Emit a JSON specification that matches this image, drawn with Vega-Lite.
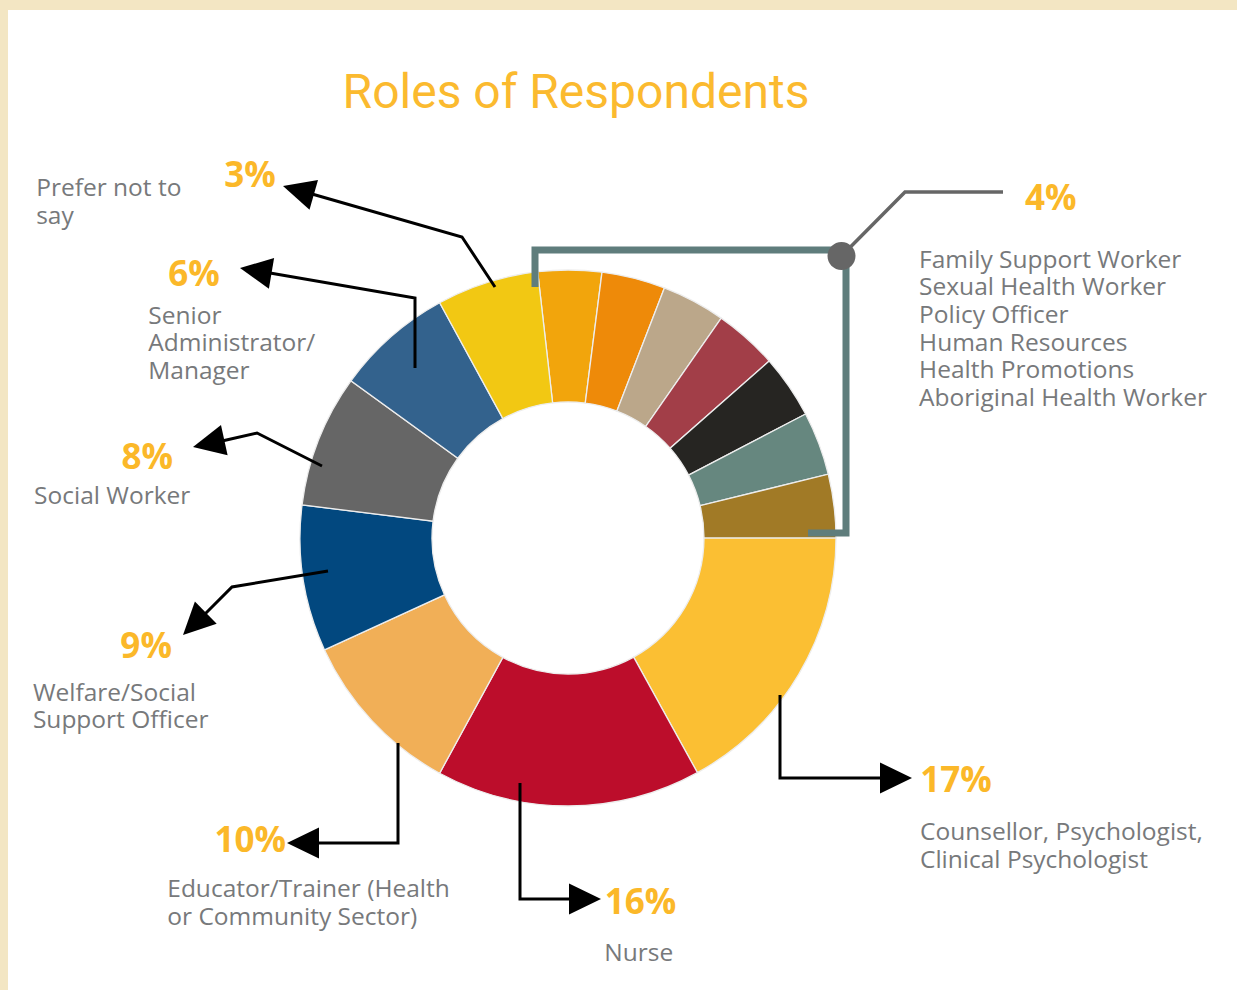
{
  "$schema": "https://vega.github.io/schema/vega-lite/v6.json",
  "autosize": "none",
  "width": 1128,
  "height": 1066,
  "padding": {"left": 4, "top": 5, "right": 105, "bottom": -81},
  "background": "white",
  "view": {"fill": null, "stroke": null},
  "title": {
    "text": "Roles of Respondents",
    "frame": "group",
    "anchor": "middle",
    "orient": "top",
    "offset": -156,
    "baseline": "alphabetic",
    "dx": 8,
    "font": "Roboto",
    "fontSize": 48,
    "fontWeight": 400,
    "color": "#FBBA2F"
  },
  "data": {
    "values": [
      {"rank": 1, "role": "Family Support Worker", "value": 3.83, "pct": "4%", "caption": ""},
      {"rank": 2, "role": "Sexual Health Worker", "value": 3.83, "pct": "4%", "caption": ""},
      {"rank": 3, "role": "Policy Officer", "value": 3.83, "pct": "4%", "caption": ""},
      {"rank": 4, "role": "Human Resources", "value": 3.83, "pct": "4%", "caption": "Family Support Worker\nSexual Health Worker\nPolicy Officer\nHuman Resources\nHealth Promotions\nAboriginal Health Worker"},
      {"rank": 5, "role": "Health Promotions", "value": 3.83, "pct": "4%", "caption": ""},
      {"rank": 6, "role": "Aboriginal Health Worker", "value": 3.83, "pct": "4%", "caption": ""},
      {"rank": 7, "role": "Other", "value": 3.83, "pct": "4%", "caption": ""},
      {"rank": 8, "role": "Counsellor, Psychologist, Clinical Psychologist", "value": 16.97, "pct": "17%", "caption": "Counsellor, Psychologist,\nClinical Psychologist"},
      {"rank": 9, "role": "Nurse", "value": 15.97, "pct": "16%", "caption": "Nurse"},
      {"rank": 10, "role": "Educator/Trainer (Health or Community Sector)", "value": 10.19, "pct": "10%", "caption": "Educator/Trainer (Health\nor Community Sector)"},
      {"rank": 11, "role": "Welfare/Social Support Officer", "value": 8.83, "pct": "9%", "caption": "Welfare/Social\nSupport Officer"},
      {"rank": 12, "role": "Social Worker", "value": 8.0, "pct": "8%", "caption": "Social Worker"},
      {"rank": 13, "role": "Senior Administrator/Manager", "value": 7.08, "pct": "6%", "caption": "Senior\nAdministrator/\nManager"},
      {"rank": 14, "role": "Prefer not to say", "value": 6.14, "pct": "3%", "caption": "Prefer not to\nsay"}
    ]
  },
  "transform": [
    {"stack": "value", "groupby": [], "sort": [{"field": "rank", "order": "ascending"}], "as": ["v0", "v1"]}
  ],
  "resolve": {"scale": {"shape": "independent"}},
  "layer": [
    {
      "transform": [{"filter": "datum.rank === 1"}],
      "mark": {"type": "point", "size": 4, "opacity": 1, "filled": true, "fill": "#F3E6C3", "strokeWidth": 0,
               "shape": "M -568 -538 L 669 -538 L 669 -528 L -560 -528 L -560 452 L -568 452 Z"}
    },
    {
      "mark": {"type": "arc", "radius": 268, "radius2": 136, "stroke": "#ededed", "strokeWidth": 1.3},
      "encoding": {
        "theta": {"field": "v0", "type": "quantitative", "scale": {"domain": [0, 99.99], "range": [-0.11345, 6.16974]}},
        "theta2": {"field": "v1"},
        "color": {
          "field": "role", "type": "nominal", "legend": null,
          "scale": {
            "domain": ["Family Support Worker", "Sexual Health Worker", "Policy Officer", "Human Resources", "Health Promotions", "Aboriginal Health Worker", "Other", "Counsellor, Psychologist, Clinical Psychologist", "Nurse", "Educator/Trainer (Health or Community Sector)", "Welfare/Social Support Officer", "Social Worker", "Senior Administrator/Manager", "Prefer not to say"],
            "range": ["#F2A50C", "#EE8A09", "#BBA78A", "#A23E48", "#262522", "#66877F", "#A17A26", "#FBBF33", "#BC0D2B", "#F1AF57", "#02487F", "#666666", "#33628D", "#F2C813"]
          }
        }
      }
    },
    {
      "transform": [{"filter": "datum.rank === 4"}],
      "mark": {"type": "point", "size": 4, "opacity": 1, "filled": false, "stroke": "#5F7D7C", "strokeWidth": 7, "strokeJoin": "miter", "strokeCap": "butt",
               "shape": "M -33 -251 L -33 -288 L 278 -288 L 278 -5 L 240 -5"}
    },
    {
      "transform": [{"filter": "datum.rank === 4"}],
      "mark": {"type": "point", "size": 4, "opacity": 1, "filled": false, "stroke": "#666666", "strokeWidth": 3.5, "strokeJoin": "miter",
               "shape": "M 273.5 -282 L 337 -346 L 435 -346"}
    },
    {
      "transform": [{"filter": "datum.rank === 4"}],
      "mark": {"type": "point", "size": 4, "opacity": 1, "filled": true, "fill": "#666666", "strokeWidth": 0,
               "shape": "M 287.5 -282 A 14 14 0 1 1 259.5 -282 A 14 14 0 1 1 287.5 -282 Z"}
    },
    {
      "transform": [{"filter": "datum.rank >= 8"}],
      "mark": {"type": "point", "size": 4, "opacity": 1, "filled": false, "stroke": "#000000", "strokeWidth": 3, "strokeJoin": "miter"},
      "encoding": {
        "shape": {
          "field": "role", "type": "nominal", "legend": null,
          "scale": {
            "domain": ["Counsellor, Psychologist, Clinical Psychologist", "Nurse", "Educator/Trainer (Health or Community Sector)", "Welfare/Social Support Officer", "Social Worker", "Senior Administrator/Manager", "Prefer not to say"],
            "range": [
              "M 212 157 L 212 240 L 314 240",
              "M -48 245 L -48 361 L 3 361",
              "M -170 205 L -170 305 L -251 305",
              "M -240 33 L -336 49 L -364 77",
              "M -246 -72 L -311 -105 L -346 -97",
              "M -153 -170 L -153 -240 L -298 -265",
              "M -73 -251 L -106 -301 L -256 -344"
            ]
          }
        }
      }
    },
    {
      "transform": [{"filter": "datum.rank >= 8"}],
      "mark": {"type": "point", "size": 4, "opacity": 1, "filled": true, "fill": "#000000", "strokeWidth": 0},
      "encoding": {
        "shape": {
          "field": "role", "type": "nominal", "legend": null,
          "scale": {
            "domain": ["Counsellor, Psychologist, Clinical Psychologist", "Nurse", "Educator/Trainer (Health or Community Sector)", "Welfare/Social Support Officer", "Social Worker", "Senior Administrator/Manager", "Prefer not to say"],
            "range": [
              "M 344 240 L 312 224.5 L 312 255.5 Z",
              "M 33 361 L 1 345.5 L 1 376.5 Z",
              "M -281 305 L -249 289.5 L -249 320.5 Z",
              "M -385 97 L -351.3 85.7 L -373.1 63.5 Z",
              "M -375 -91 L -340.4 -82.7 L -347 -112.9 Z",
              "M -328 -270 L -293.9 -279.9 L -299.1 -249.3 Z",
              "M -285 -352 L -250 -358 L -258.5 -328.3 Z"
            ]
          }
        }
      }
    },
    {"transform": [{"filter": "datum.rank === 14"}],
     "mark": {"type": "text", "radius": 472, "dx": -92, "dy": 52, "font": "Open Sans", "fontSize": 35, "fontWeight": "bold", "fill": "#FBB829", "align": "center", "baseline": "middle"},
     "encoding": {"theta": {"field": "v0", "type": "quantitative", "scale": {"domain": [0, 99.99], "range": [-0.11345, 6.16974]}}, "text": {"field": "pct"}}},
    {"transform": [{"filter": "datum.rank === 13"}],
     "mark": {"type": "text", "radius": 458, "dx": -3, "dy": 6, "font": "Open Sans", "fontSize": 35, "fontWeight": "bold", "fill": "#FBB829", "align": "center", "baseline": "middle"},
     "encoding": {"theta": {"field": "v0", "type": "quantitative", "scale": {"domain": [0, 99.99], "range": [-0.11345, 6.16974]}}, "text": {"field": "pct"}}},
    {"transform": [{"filter": "datum.rank === 12"}],
     "mark": {"type": "text", "radius": 428, "dx": 4, "dy": -27, "font": "Open Sans", "fontSize": 35, "fontWeight": "bold", "fill": "#FBB829", "align": "center", "baseline": "middle"},
     "encoding": {"theta": {"field": "v0", "type": "quantitative", "scale": {"domain": [0, 99.99], "range": [-0.11345, 6.16974]}}, "text": {"field": "pct"}}},
    {"transform": [{"filter": "datum.rank === 11"}],
     "mark": {"type": "text", "radius": 428, "dx": -33, "dy": -70, "font": "Open Sans", "fontSize": 35, "fontWeight": "bold", "fill": "#FBB829", "align": "center", "baseline": "middle"},
     "encoding": {"theta": {"field": "v0", "type": "quantitative", "scale": {"domain": [0, 99.99], "range": [-0.11345, 6.16974]}}, "text": {"field": "pct"}}},
    {"transform": [{"filter": "datum.rank === 10"}],
     "mark": {"type": "text", "radius": 417, "dx": -118, "dy": -63, "font": "Open Sans", "fontSize": 35, "fontWeight": "bold", "fill": "#FBB829", "align": "center", "baseline": "middle"},
     "encoding": {"theta": {"field": "v0", "type": "quantitative", "scale": {"domain": [0, 99.99], "range": [-0.11345, 6.16974]}}, "text": {"field": "pct"}}},
    {"transform": [{"filter": "datum.rank === 9"}],
     "mark": {"type": "text", "radius": 353, "dx": -98, "dy": 56, "font": "Open Sans", "fontSize": 35, "fontWeight": "bold", "fill": "#FBB829", "align": "center", "baseline": "middle"},
     "encoding": {"theta": {"field": "v0", "type": "quantitative", "scale": {"domain": [0, 99.99], "range": [-0.11345, 6.16974]}}, "text": {"field": "pct"}}},
    {"transform": [{"filter": "datum.rank === 8"}],
     "mark": {"type": "text", "radius": 388, "dx": 0, "dy": 243, "font": "Open Sans", "fontSize": 35, "fontWeight": "bold", "fill": "#FBB829", "align": "center", "baseline": "middle"},
     "encoding": {"theta": {"field": "v0", "type": "quantitative", "scale": {"domain": [0, 99.99], "range": [-0.11345, 6.16974]}}, "text": {"field": "pct"}}},
    {"transform": [{"filter": "datum.rank === 4"}],
     "mark": {"type": "text", "radius": 556, "dx": 165, "dy": 117, "font": "Open Sans", "fontSize": 35, "fontWeight": "bold", "fill": "#FBB829", "align": "center", "baseline": "middle"},
     "encoding": {"theta": {"field": "v0", "type": "quantitative", "scale": {"domain": [0, 99.99], "range": [-0.11345, 6.16974]}}, "text": {"field": "pct"}}},
    {"transform": [{"filter": "datum.rank === 14"}],
     "mark": {"type": "text", "radius": 549, "dx": -269, "dy": 133, "font": "Open Sans", "fontSize": 24.5, "lineHeight": 27.7, "lineBreak": "\n", "fill": "#77797B", "align": "left", "baseline": "middle"},
     "encoding": {"theta": {"field": "v0", "type": "quantitative", "scale": {"domain": [0, 99.99], "range": [-0.11345, 6.16974]}}, "text": {"field": "caption"}}},
    {"transform": [{"filter": "datum.rank === 13"}],
     "mark": {"type": "text", "radius": 454, "dx": -52, "dy": 45, "font": "Open Sans", "fontSize": 24.5, "lineHeight": 27.7, "lineBreak": "\n", "fill": "#77797B", "align": "left", "baseline": "middle"},
     "encoding": {"theta": {"field": "v0", "type": "quantitative", "scale": {"domain": [0, 99.99], "range": [-0.11345, 6.16974]}}, "text": {"field": "caption"}}},
    {"transform": [{"filter": "datum.rank === 12"}],
     "mark": {"type": "text", "radius": 535, "dx": -3, "dy": 25, "font": "Open Sans", "fontSize": 24.5, "lineHeight": 27.7, "lineBreak": "\n", "fill": "#77797B", "align": "left", "baseline": "middle"},
     "encoding": {"theta": {"field": "v0", "type": "quantitative", "scale": {"domain": [0, 99.99], "range": [-0.11345, 6.16974]}}, "text": {"field": "caption"}}},
    {"transform": [{"filter": "datum.rank === 11"}],
     "mark": {"type": "text", "radius": 557, "dx": -29, "dy": -77, "font": "Open Sans", "fontSize": 24.5, "lineHeight": 27.7, "lineBreak": "\n", "fill": "#77797B", "align": "left", "baseline": "middle"},
     "encoding": {"theta": {"field": "v0", "type": "quantitative", "scale": {"domain": [0, 99.99], "range": [-0.11345, 6.16974]}}, "text": {"field": "caption"}}},
    {"transform": [{"filter": "datum.rank === 10"}],
     "mark": {"type": "text", "radius": 513, "dx": -155, "dy": -98, "font": "Open Sans", "fontSize": 24.5, "lineHeight": 27.7, "lineBreak": "\n", "fill": "#77797B", "align": "left", "baseline": "middle"},
     "encoding": {"theta": {"field": "v0", "type": "quantitative", "scale": {"domain": [0, 99.99], "range": [-0.11345, 6.16974]}}, "text": {"field": "caption"}}},
    {"transform": [{"filter": "datum.rank === 9"}],
     "mark": {"type": "text", "radius": 399, "dx": -122, "dy": 67, "font": "Open Sans", "fontSize": 24.5, "lineHeight": 27.7, "lineBreak": "\n", "fill": "#77797B", "align": "center", "baseline": "middle"},
     "encoding": {"theta": {"field": "v0", "type": "quantitative", "scale": {"domain": [0, 99.99], "range": [-0.11345, 6.16974]}}, "text": {"field": "caption"}}},
    {"transform": [{"filter": "datum.rank === 8"}],
     "mark": {"type": "text", "radius": 352, "dx": 0, "dy": 295, "font": "Open Sans", "fontSize": 24.5, "lineHeight": 27.7, "lineBreak": "\n", "fill": "#77797B", "align": "left", "baseline": "middle"},
     "encoding": {"theta": {"field": "v0", "type": "quantitative", "scale": {"domain": [0, 99.99], "range": [-0.11345, 6.16974]}}, "text": {"field": "caption"}}},
    {"transform": [{"filter": "datum.rank === 4"}],
     "mark": {"type": "text", "radius": 371, "dx": 139, "dy": 27, "font": "Open Sans", "fontSize": 24.5, "lineHeight": 27.7, "lineBreak": "\n", "fill": "#77797B", "align": "left", "baseline": "middle"},
     "encoding": {"theta": {"field": "v0", "type": "quantitative", "scale": {"domain": [0, 99.99], "range": [-0.11345, 6.16974]}}, "text": {"field": "caption"}}}
  ]
}
